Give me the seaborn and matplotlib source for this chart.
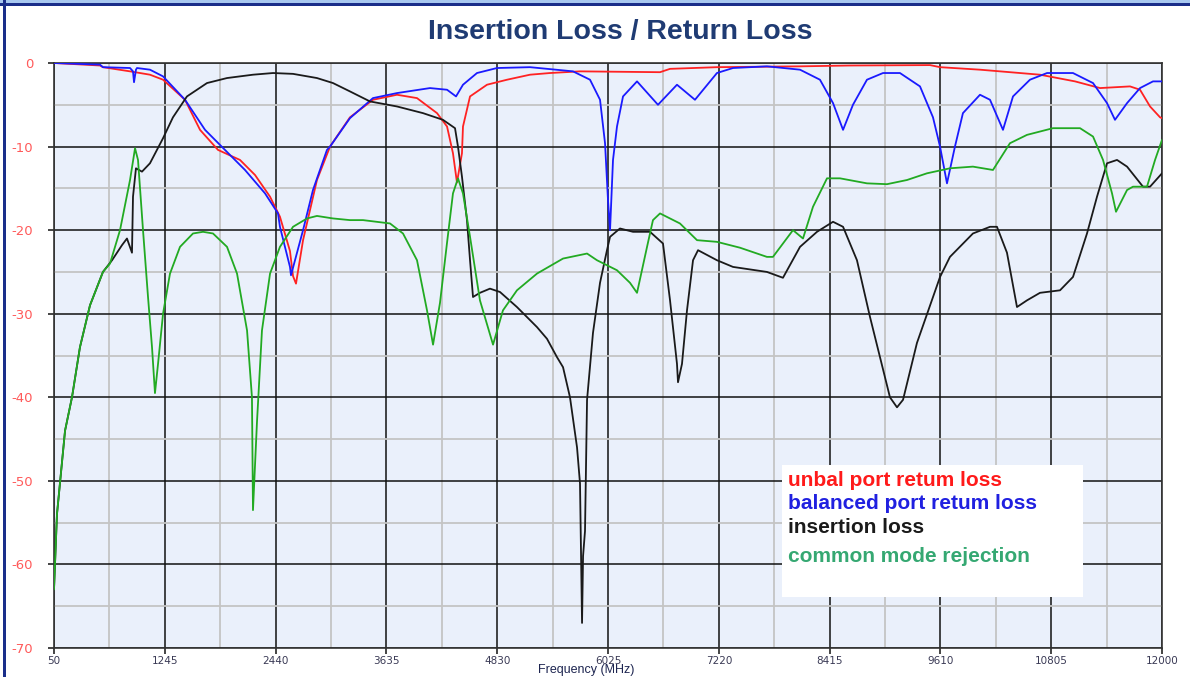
import numpy as np
import pandas as pd
import matplotlib
matplotlib.use("Agg")
import matplotlib.pyplot as plt
from matplotlib.patches import Rectangle
from matplotlib.ticker import FixedLocator
import seaborn as sns

# ---------------- data (frequency in MHz, level in dB) ----------------
red_f = [50, 546, 578, 870, 1085, 1226, 1463, 1625, 1819, 2056, 2218, 2380, 2487, 2595, 2628, 2660,
         2736, 2886, 3027, 3242, 3490, 3749, 3965, 4181, 4289, 4353, 4396, 4450, 4461, 4537, 4720,
         4936, 5184, 5399, 5723, 6586, 6694, 7200, 8096, 8635, 9498, 9606, 10037, 10468, 10684,
         11062, 11332, 11655, 11763, 11871, 11979, 12000]
red_db = [0, -0.3, -0.5, -1.0, -1.4, -2.0, -4.4, -8.0, -10.4, -11.6, -13.4, -16.0, -18.4, -22.5, -25.5, -26.4,
          -21.2, -14.0, -10.0, -6.5, -4.4, -3.8, -4.2, -6.0, -7.6, -10.8, -14.3, -10.8, -7.6, -4.0, -2.6,
          -2.0, -1.4, -1.2, -1.0, -1.1, -0.7, -0.5, -0.4, -0.3, -0.25, -0.5, -0.8, -1.2, -1.4,
          -2.2, -3.0, -2.8, -3.2, -5.2, -6.5, -6.6]

blue_f = [50, 546, 578, 870, 902, 913, 934, 945, 1085, 1226, 1463, 1679, 1894, 2110, 2326, 2466, 2487,
          2595, 2606, 2736, 2843, 2994, 3027, 3242, 3490, 3749, 4105, 4289, 4386, 4461, 4612, 4828,
          5184, 5647, 5831, 5939, 5993, 6025, 6047, 6079, 6122, 6187, 6338, 6564, 6769, 6963, 7200,
          7373, 7739, 8096, 8311, 8452, 8560, 8667, 8818, 8991, 9174, 9390, 9530, 9606, 9681, 9767,
          9853, 10037, 10145, 10285, 10393, 10576, 10760, 11040, 11256, 11407, 11493, 11623, 11763,
          11903, 12000]
blue_db = [0, -0.2, -0.5, -0.6, -1.0, -2.3, -0.8, -0.6, -0.8, -1.6, -4.4, -8.0, -10.4, -12.8, -15.6, -18.0, -19.6,
           -24.4, -25.4, -20.0, -15.2, -10.4, -10.0, -6.6, -4.2, -3.6, -3.0, -3.2, -4.0, -2.6, -1.2, -0.6,
           -0.5, -1.0, -2.0, -4.4, -9.6, -16.4, -20.0, -11.6, -7.6, -4.0, -2.2, -5.0, -2.6, -4.4, -1.2,
           -0.6, -0.4, -0.8, -2.0, -4.8, -8.0, -5.0, -2.0, -1.2, -1.2, -2.8, -6.5, -10.0, -14.4, -10.0,
           -6.0, -3.8, -4.4, -8.0, -4.0, -2.0, -1.2, -1.2, -2.4, -4.8, -6.8, -4.8, -3.0,
           -2.2, -2.2]

black_f = [50, 82, 169, 244, 330, 438, 578, 676, 783, 837, 891, 902, 934, 999, 1085, 1226, 1333, 1484,
           1700, 1916, 2196, 2412, 2628, 2886, 3059, 3242, 3458, 3749, 4030, 4245, 4375, 4407, 4450,
           4504, 4537, 4569, 4644, 4752, 4860, 5043, 5259, 5367, 5475, 5540, 5615, 5691, 5723, 5734,
           5745, 5756, 5777, 5799, 5863, 5939, 6014, 6047, 6154, 6295, 6478, 6618, 6694, 6769, 6780,
           6823, 6877, 6942, 6996, 7200, 7373, 7739, 7912, 8096, 8279, 8452, 8560, 8710, 8851, 9066,
           9142, 9207, 9357, 9606, 9713, 9961, 10145, 10220, 10328, 10436, 10544, 10684, 10900, 11040,
           11191, 11299, 11407, 11515, 11623, 11795, 11871, 12000]
black_db = [-63, -54, -44, -40, -34, -29, -25, -23.6, -21.8, -21.0, -22.7, -16.0, -12.6, -13.0, -12.0, -9.0, -6.5, -4.0,
            -2.4, -1.8, -1.4, -1.2, -1.3, -1.8, -2.4, -3.4, -4.6, -5.2, -6.0, -6.8, -7.8, -10.0, -13.6,
            -18.8, -23.6, -28.0, -27.5, -27.0, -27.4, -29.2, -31.6, -33.0, -35.2, -36.4, -40.0, -46.0, -50.3, -58.6,
            -67.0, -59.0, -56.0, -40.3, -32.3, -26.3, -22.4, -20.8, -19.8, -20.2, -20.2, -21.6, -28.4, -36.0, -38.2,
            -36.0, -29.6, -23.6, -22.4, -23.6, -24.4, -25.0, -25.7, -22.0, -20.2, -19.0, -19.6, -23.6, -30.4, -40.0,
            -41.2, -40.3, -33.5, -25.6, -23.2, -20.4, -19.6, -19.6, -22.7, -29.2, -28.4, -27.5, -27.2, -25.6,
            -20.4, -16.0, -12.0, -11.6, -12.4, -14.8, -14.8, -13.2]

green_f = [50, 82, 169, 244, 330, 438, 578, 654, 762, 870, 924, 956, 1010, 1064, 1107, 1139, 1172, 1226,
           1301, 1409, 1549, 1657, 1765, 1916, 2024, 2132, 2185, 2196, 2239, 2293, 2380, 2487, 2628, 2779,
           2886, 3059, 3242, 3383, 3674, 3814, 3965, 4073, 4138, 4213, 4289, 4353, 4407, 4461, 4537,
           4644, 4785, 4892, 5043, 5259, 5540, 5799, 5906, 6122, 6262, 6338, 6446, 6510, 6586, 6801,
           6985, 7200, 7448, 7739, 7804, 8020, 8128, 8236, 8387, 8527, 8818, 9034, 9250, 9465, 9713,
           9961, 10177, 10360, 10544, 10824, 11116, 11256, 11364, 11461, 11504, 11623, 11687, 11838,
           11925, 12000]
green_db = [-63, -54, -44, -40, -34, -29, -25, -24.0, -20.0, -14.0, -10.2, -11.6, -20.0, -28.0, -34.0, -39.5, -36.0, -30.0,
            -25.2, -22.0, -20.4, -20.2, -20.4, -22.0, -25.2, -32.0, -40.0, -53.5, -43.0, -32.0, -25.2, -22.0, -19.6, -18.6,
            -18.3, -18.6, -18.8, -18.8, -19.2, -20.4, -23.6, -29.6, -33.7, -28.7, -21.5, -15.6, -13.8, -15.6, -20.8,
            -28.4, -33.7, -29.6, -27.2, -25.2, -23.4, -22.8, -23.6, -24.8, -26.3, -27.5, -22.0, -18.8, -18.0, -19.2,
            -21.2, -21.4, -22.1, -23.2, -23.2, -20.0, -21.0, -17.2, -13.8, -13.8, -14.4, -14.5, -14.0, -13.2, -12.6,
            -12.4, -12.8, -9.6, -8.6, -7.8, -7.8, -8.8, -11.6, -15.6, -17.8, -15.2, -14.8, -14.8,
            -11.6, -9.2]

series_names = ["unbal port retum loss", "balanced port retum loss", "insertion loss", "common mode rejection"]

x_ticks = [50, 1245, 2440, 3635, 4830, 6025, 7220, 8415, 9610, 10805, 12000]
x_tick_labels = ["50", "1245", "2440", "3635", "4830", "6025", "7220", "8415", "9610", "10805", "12000"]
y_ticks = [0, -10, -20, -30, -40, -50, -60, -70]
y_tick_labels = ["0", "-10", "-20", "-30", "-40", "-50", "-60", "-70"]

title_text = "Insertion Loss / Return Loss"
x_label = "Frequency (MHz)"

# ---------------- styling ----------------
sns.set_theme(style="white")
plt.rcParams["font.family"] = ["Liberation Sans", "DejaVu Sans"]

fig = plt.figure(figsize=(11.9, 6.77), dpi=100)
fig.patch.set_facecolor("white")
ax = fig.add_axes([54 / 1190, 1 - 648 / 677, 1108 / 1190, 585 / 677])
ax.set_facecolor("#eaf0fb")

line_colors = ["#ff2222", "#1a1aff", "#1a1a1a", "#22aa22"]
frames = [
    (red_f, red_db),
    (blue_f, blue_db),
    (black_f, black_db),
    (green_f, green_db),
]
draw_order = [3, 2, 0, 1]
for i in draw_order:
    f, d = frames[i]
    df = pd.DataFrame({"f": f, "db": d})
    sns.lineplot(data=df, x="f", y="db", ax=ax, color=line_colors[i], linewidth=1.3,
                 estimator=None, sort=False, zorder=3 + i * 0.1)

ax.set_xlim(x_ticks[0], x_ticks[-1])
ax.set_ylim(y_ticks[-1], y_ticks[0])

ax.set_xticks(x_ticks)
ax.set_xticklabels(x_tick_labels)
ax.set_yticks(y_ticks)
ax.set_yticklabels(y_tick_labels)
minor_x = [(a + b) / 2 for a, b in zip(x_ticks[:-1], x_ticks[1:])]
minor_y = [(a + b) / 2 for a, b in zip(y_ticks[:-1], y_ticks[1:])]
ax.xaxis.set_minor_locator(FixedLocator(minor_x))
ax.yaxis.set_minor_locator(FixedLocator(minor_y))

ax.grid(which="major", color="#111111", linewidth=1.1)
ax.grid(which="minor", color="#c4c4c4", linewidth=1.3)
ax.set_axisbelow(True)

ax.tick_params(axis="x", which="major", length=4, width=1.1, color="#111111", pad=1.5,
               labelsize=7.5, labelcolor="#3a3a55", direction="out", bottom=True)
ax.tick_params(axis="y", which="major", length=4, width=1.1, color="#111111", pad=11,
               labelsize=9.5, labelcolor="#ff5a5a", direction="out", left=True)
ax.tick_params(which="minor", length=0)
for lbl in ax.get_xticklabels() + ax.get_yticklabels():
    lbl.set_family(["DejaVu Sans"])

for s in ax.spines.values():
    s.set_color("#333333")
    s.set_linewidth(1.2)

ax.set_xlabel("")
ax.set_ylabel("")

# title and axis label
fig.text(620 / 1190, 1 - 32 / 677, title_text, ha="center", va="center",
         fontsize=20.5, fontweight="bold", color="#1f3b73")
fig.text(586 / 1190, 0.5 / 677, x_label, ha="center", va="bottom",
         fontsize=9, color="#1d2550")

# legend box
ax.add_patch(Rectangle((0.657, 0.0872), 0.2717, 0.2256, transform=ax.transAxes,
                       facecolor="white", edgecolor="none", zorder=6))
legend_colors = ["#ff1a1a", "#2020e0", "#1a1a1a", "#35a872"]
legend_y = [0.2855, 0.2462, 0.2068, 0.1556]
for name, c, yy in zip(series_names, legend_colors, legend_y):
    ax.text(0.6625, yy, name, transform=ax.transAxes, color=c, fontsize=15,
            fontweight="bold", ha="left", va="center", zorder=7)

# slide border
fig.patches.append(Rectangle((0, 1 - 3 / 677), 1, 3 / 677, transform=fig.transFigure,
                             facecolor="#a8c8f0", edgecolor="none", zorder=10))
fig.patches.append(Rectangle((0, 1 - 6 / 677), 1, 3 / 677, transform=fig.transFigure,
                             facecolor="#1a2e8a", edgecolor="none", zorder=10))
fig.patches.append(Rectangle((3 / 1190, 0), 3 / 1190, 1, transform=fig.transFigure,
                             facecolor="#1a2e8a", edgecolor="none", zorder=10))

fig.savefig("out.png", dpi=100)
